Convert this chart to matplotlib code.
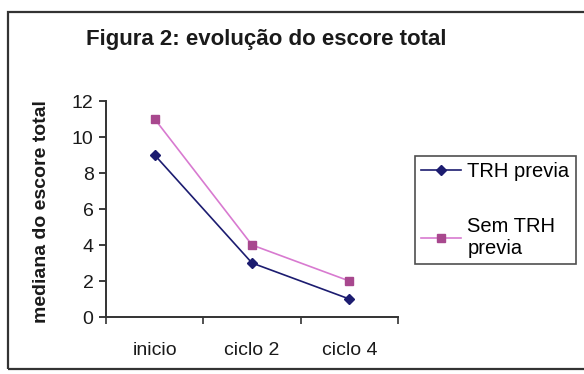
import matplotlib

matplotlib.use("Agg")

import matplotlib.pyplot as plt
from matplotlib.patches import Rectangle

CATEGORIES = ["inicio", "ciclo 2", "ciclo 4"]
TRH_PREVIA = [9, 3, 1]
SEM_TRH_PREVIA = [11, 4, 2]
Y_TICKS = [0, 2, 4, 6, 8, 10, 12]

NAVY = "#1c1c70"
PINK_LINE = "#d87ad0"
PINK_MARKER = "#a8488e"
TEXT_COLOR = "#1a1a1a"

W, H = 584, 374

plt.rcParams["font.family"] = ["Liberation Sans", "DejaVu Sans"]

fig = plt.figure(figsize=(W / 100, H / 100), dpi=100)
fig.patch.set_facecolor("white")

# outer chart frame
fig.patches.append(
    Rectangle((8 / W, 1 - 369 / H), 600 / W, (369 - 12) / H,
              transform=fig.transFigure, fill=False,
              edgecolor="#333333", linewidth=1.6)
)

ax = fig.add_axes([106 / W, 1 - 317 / H, (398 - 106) / W, (317 - 101) / H])
x = list(range(len(CATEGORIES)))
ax.plot(x, TRH_PREVIA, color=NAVY, linewidth=1.2, marker="D",
        markersize=5, markerfacecolor=NAVY, markeredgecolor=NAVY,
        label="TRH previa")
ax.plot(x, SEM_TRH_PREVIA, color=PINK_LINE, linewidth=1.2, marker="s",
        markersize=6, markerfacecolor=PINK_MARKER, markeredgecolor=PINK_MARKER,
        label="Sem TRH\nprevia")

ax.set_xlim(-0.5, len(CATEGORIES) - 0.5)
ax.set_ylim(0, 12)
ax.set_yticks(Y_TICKS)
ax.set_xticks(x)
ax.set_xticklabels(CATEGORIES)
ax.set_xticks([i - 0.5 for i in range(len(CATEGORIES) + 1)], minor=True)
ax.tick_params(axis="x", which="major", length=0, pad=18,
               labelsize=14, colors=TEXT_COLOR)
ax.tick_params(axis="x", which="minor", length=5, width=1.2,
               direction="out", color="#333333")
ax.tick_params(axis="y", length=5, width=1.2, direction="out",
               labelsize=14, pad=4, colors=TEXT_COLOR)
for side in ("top", "right"):
    ax.spines[side].set_visible(False)
for side in ("left", "bottom"):
    ax.spines[side].set_color("#333333")
    ax.spines[side].set_linewidth(1.4)

ax.set_ylabel("mediana do escore total", fontsize=14, fontweight="bold",
              color=TEXT_COLOR)
ax.yaxis.set_label_coords(-0.192, 0.49)

fig.text(266 / W, 1 - 39 / H, "Figura 2: evolução do escore total",
         ha="center", va="center", fontsize=16, fontweight="bold",
         color=TEXT_COLOR)

leg = fig.legend(loc="upper left", bbox_to_anchor=(415 / W, 1 - 156 / H),
                 frameon=True, fancybox=False, fontsize=14.5,
                 handlelength=2.0, handletextpad=0.3, borderpad=0.3,
                 labelspacing=1.8, borderaxespad=0)
leg.get_frame().set_edgecolor("#222222")
leg.get_frame().set_linewidth(1.2)

fig.savefig("out.png", dpi=100)
